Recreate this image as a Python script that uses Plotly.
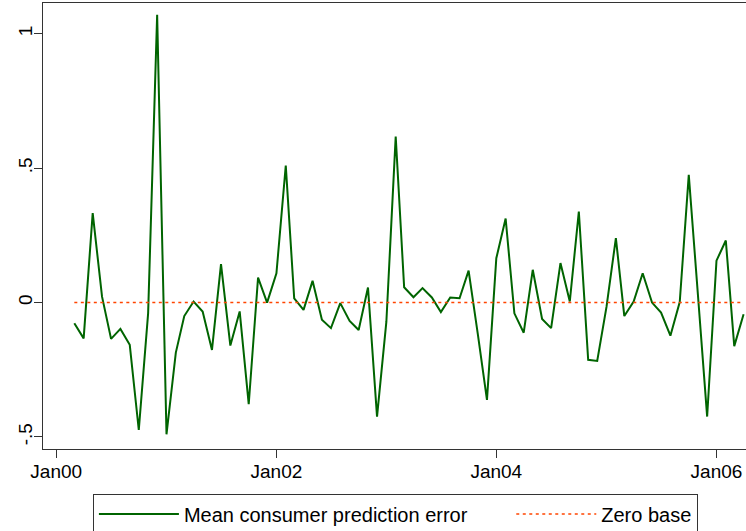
import pandas as pd
import plotly.graph_objects as go

# monthly observations, Mar 2000 - Apr 2006
months = pd.date_range("2000-03-01", periods=74, freq="MS")
pred_error = [
    -0.077, -0.133, 0.333, 0.022, -0.135, -0.098, -0.157, -0.474, -0.040, 1.071,
    -0.490, -0.186, -0.050, 0.004, -0.033, -0.176, 0.143, -0.160, -0.033, -0.378,
    0.093, 0.000, 0.109, 0.510, 0.016, -0.027, 0.081, -0.064, -0.095, -0.002,
    -0.068, -0.102, 0.056, -0.424, -0.071, 0.618, 0.057, 0.020, 0.054, 0.019,
    -0.035, 0.019, 0.016, 0.119, -0.120, -0.362, 0.165, 0.313, -0.040, -0.112,
    0.122, -0.061, -0.095, 0.147, 0.004, 0.339, -0.213, -0.217, -0.015, 0.240,
    -0.050, 0.004, 0.109, 0.000, -0.037, -0.123, 0.002, 0.475, 0.020, -0.424,
    0.156, 0.231, -0.162, -0.043,
]
zero_base = [0.0] * len(months)

x_tickvals = ["2000-01-01", "2002-01-01", "2004-01-01", "2006-01-01"]
x_ticktext = ["Jan00", "Jan02", "Jan04", "Jan06"]
y_tickvals = [-0.5, 0, 0.5, 1]
y_ticktext = ["-.5", "0", ".5", "1"]

font = "Liberation Sans, Arial, sans-serif"
pad = "\u00a0" * 7  # extra room between the two legend entries

fig = go.Figure()
fig.add_trace(go.Scatter(x=months, y=pred_error, mode="lines",
                         name="Mean consumer prediction error" + pad,
                         line=dict(color="rgb(0,100,0)", width=2)))
fig.add_trace(go.Scatter(x=months, y=zero_base, mode="lines",
                         name="Zero base",
                         line=dict(color="#FF4500", width=1.5, dash="3px,3.5px")))

fig.update_layout(
    width=746, height=531,
    margin=dict(l=43, r=0, t=3, b=82, autoexpand=False),
    plot_bgcolor="white", paper_bgcolor="white",
    font=dict(family=font, size=19, color="black"),
    showlegend=True,
    legend=dict(orientation="h", x=0.071, xanchor="left", y=-0.1, yanchor="top",
                bordercolor="#333", borderwidth=1, bgcolor="white",
                font=dict(size=20), itemwidth=80, traceorder="normal"),
)
fig.update_xaxes(range=["1999-11-18", "2006-04-09"], tickvals=x_tickvals, ticktext=x_ticktext,
                 showgrid=False, zeroline=False, showline=True, mirror=True, automargin=False,
                 linecolor="#333", linewidth=1.3, ticks="outside", ticklen=8,
                 tickcolor="#333", tickfont=dict(size=19), ticklabelstandoff=-3)
fig.update_yaxes(range=[-0.5447, 1.1147], tickvals=y_tickvals, ticktext=y_ticktext,
                 showgrid=False, zeroline=False, showline=True, mirror=False, automargin=False,
                 linecolor="#333", linewidth=1.3, ticks="outside", ticklen=8,
                 tickcolor="#333", tickangle=-90, tickfont=dict(size=19), ticklabelstandoff=-6)

# the page body has a default 8px margin; drop it so the figure sits at the corner
fig.write_html("out.html", config={"displayModeBar": False},
               post_script="document.body.style.margin='0';")
